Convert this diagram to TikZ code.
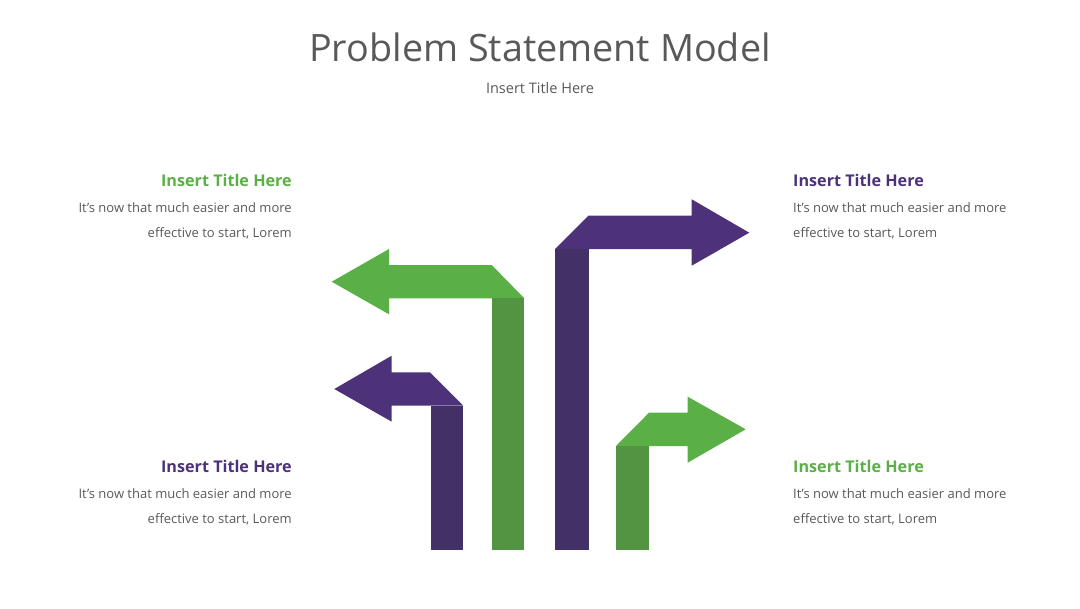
\documentclass[tikz,border=0pt]{standalone}
\usepackage{fontspec}
\setmainfont{Open Sans}
\usepackage{xcolor}
\usepackage{tikz}
\definecolor{psgreen}{RGB}{91,175,71}
\definecolor{psgreendk}{RGB}{82,148,66}
\definecolor{pspurple}{RGB}{77,50,122}
\definecolor{pspurpledk}{RGB}{67,48,102}
\definecolor{psgray}{RGB}{89,89,89}

\begin{document}
\begin{tikzpicture}[x=0.03cm, y=-0.03cm,
        head/.style={font=\fontsize{13.8}{16}\selectfont\bfseries, inner sep=0pt},
        body/.style={font=\fontsize{11.1}{22}\selectfont, text=psgray, inner sep=0pt},
      ]
        \useasboundingbox (0,0) rectangle (1080,608);

        \node[font=\fontsize{32.2}{38}\selectfont, text=psgray] (title) at (540,47)
              {Problem Statement Model};
        \node[font=\fontsize{12.4}{14}\selectfont, text=psgray] (subtitle) at (540,88)
              {Insert Title Here};

        % big green arrow, pointing left
        \fill[psgreen] (331.7,281.7) -- (389,249) -- (389,265) -- (491.7,265)
              -- (524.3,298.3) -- (389,298.3) -- (389,314.3) -- cycle;
        \fill[psgreendk] (491.7,298.3) rectangle (524.3,550);
        % small purple arrow, pointing left
        \fill[pspurple] (334.3,389) -- (391.7,355.7) -- (391.7,372.3) -- (430,372.3)
              -- (463.3,405.7) -- (391.7,405.7) -- (391.7,421.7) -- cycle;
        \fill[pspurpledk] (430.5,405.7) rectangle (463.3,550);
        % big purple arrow, pointing right
        \fill[pspurple] (555,249) -- (588.3,215.7) -- (691.7,215.7) -- (691.7,199.3)
              -- (749.3,232.7) -- (691.7,265.7) -- (691.7,249) -- cycle;
        \fill[pspurpledk] (555,249) rectangle (589,550);
        % small green arrow, pointing right
        \fill[psgreen] (616,446) -- (649,412.7) -- (687.7,412.7) -- (687.7,396.7)
              -- (745.7,429.3) -- (687.7,462.7) -- (687.7,446) -- cycle;
        \fill[psgreendk] (616,446) rectangle (649,550);

        % texts
        \node[head, text=psgreen, anchor=base east] (tl) at (292,186) {Insert Title Here};
        \node[body, align=right, anchor=north east] (tlb) at (292,202)
              {It’s now that much easier and more\\effective to start, Lorem};
        \node[head, text=pspurple, anchor=base west] (tr) at (793,186) {Insert Title Here};
        \node[body, align=left, anchor=north west] (trb) at (793,202)
              {It’s now that much easier and more\\effective to start, Lorem};
        \node[head, text=pspurple, anchor=base east] (bl) at (292,472) {Insert Title Here};
        \node[body, align=right, anchor=north east] (blb) at (292,488)
              {It’s now that much easier and more\\effective to start, Lorem};
        \node[head, text=psgreen, anchor=base west] (br) at (793,472) {Insert Title Here};
        \node[body, align=left, anchor=north west] (brb) at (793,488)
              {It’s now that much easier and more\\effective to start, Lorem};
      \end{tikzpicture}
\end{document}
